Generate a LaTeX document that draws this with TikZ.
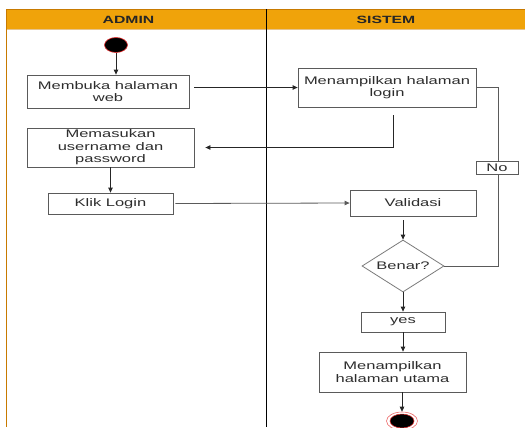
\documentclass[tikz,border=0pt]{standalone}
\usepackage{fontspec}
\setmainfont{Liberation Sans}[FakeStretch=1.5]
\usetikzlibrary{arrows.meta,shapes.geometric}
\definecolor{laneorange}{RGB}{240,163,10}
\definecolor{laneedge}{RGB}{200,122,0}
\definecolor{boxline}{RGB}{90,90,90}
\definecolor{txt}{RGB}{45,45,45}
\definecolor{ringred}{RGB}{230,40,40}
\begin{document}
\begin{tikzpicture}[x=1bp,y=-1bp,
  every node/.style={font=\fontsize{11bp}{12.5bp}\selectfont, text=txt},
  actbox/.style={draw=boxline, line width=0.8bp, fill=white, rectangle,
    align=center, inner sep=0pt},
  arr/.style={-{Triangle[length=5bp,width=4.5bp]}, line width=0.8bp, draw=black!85},
  link/.style={line width=0.8bp, draw=boxline},
  lanehead/.style={font=\bfseries\fontsize{10.5bp}{12bp}\selectfont, text=black!85}]
\useasboundingbox (0,0) rectangle (525,427);

% swimlane frame
\fill[laneorange] (6,9) rectangle (525,29);
\draw[laneedge!45, line width=0.6bp] (6,29) -- (525,29);
\draw[laneedge, line width=0.8bp] (525,9) -- (6,9) -- (6,427);
\draw[black, line width=0.8bp] (266,9) -- (266,427);
\node[lanehead] (hadmin) at (128.5,19.5) {ADMIN};
\node[lanehead] (hsistem) at (386,19.5) {SISTEM};

% initial state
\node[ellipse, fill=black, draw=ringred, line width=0.6bp, inner sep=0pt,
  minimum width=23bp, minimum height=15bp] (start) at (116,45) {};

% activities
\node[actbox, minimum width=162bp, minimum height=33bp] (b1) at (108,91.5) {Membuka halaman\\web};
\node[actbox, minimum width=178bp, minimum height=39bp] (b2) at (387,87.5) {Menampilkan halaman\\login};
\node[actbox, minimum width=167bp, minimum height=39bp] (b3) at (110.5,147.5) {Memasukan\\username dan\\password};
\node[actbox, minimum width=125bp, minimum height=21bp] (b4) at (110.5,203.5) {Klik Login};
\node[actbox, minimum width=126bp, minimum height=26bp] (val) at (413,203) {Validasi};
\node[diamond, aspect=1.58, draw=boxline!80, line width=0.8bp, fill=white, inner sep=0pt,
  minimum width=82bp, minimum height=52bp] (dia) at (403,266) {Benar?};
\node[actbox, minimum width=84bp, minimum height=20bp] (yes) at (403,322) {yes};
\node[actbox, minimum width=147bp, minimum height=40bp] (b5) at (392.5,372) {Menampilkan\\halaman utama};

% final state
\node[ellipse, draw=ringred!70, line width=0.6bp, fill=white, inner sep=0pt,
  minimum width=31bp, minimum height=18bp] (end) at (402,421) {};
\node[ellipse, fill=black, draw=ringred, line width=0.5bp, inner sep=0pt,
  minimum width=24bp, minimum height=14bp] (endin) at (402,421) {};

% flows
\draw[arr] (start.south) -- (start.south |- b1.north);
\draw[arr] ([xshift=5bp]b1.east |- b2.west) -- (b2.west);
\draw[arr] ([shift={(6,8)}]b2.south) |- ([xshift=11bp]b3.east);
\draw[arr] (b3.south) -- (b3.south |- b4.north);
\draw[arr, draw=boxline] ([xshift=2bp]b4.east) -- (val.west);
\draw[arr] ([shift={(-10,4)}]val.south) -- (dia.north);
\draw[link] (dia.east) -- ++(54,0) |- (b2.east);
\node[actbox, minimum width=42bp, minimum height=13bp] (nolbl) at (497,167.5) {No};
\draw[arr] (dia.south) -- (yes.north);
\draw[arr] (yes.south) -- (yes.south |- b5.north);
\draw[arr] (end.north |- b5.south) -- (end.north);
\end{tikzpicture}
\end{document}
